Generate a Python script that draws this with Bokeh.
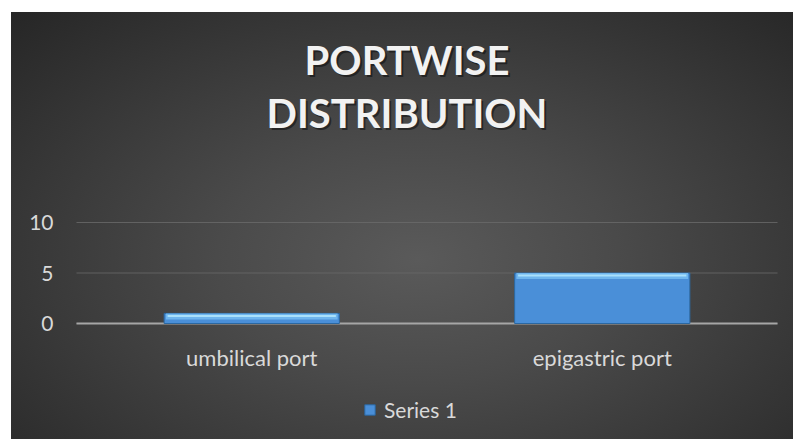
from bokeh.plotting import figure
from bokeh.models import Range1d, Legend, LegendItem
from bokeh.embed import file_html
from bokeh.resources import INLINE

# ---- data ----
categories = ["umbilical port", "epigastric port"]
series_name = "Series 1"
series_values = [1, 5]
y_ticks = [0, 5, 10]
y_tick_labels = ["0", "5", "10"]
title_lines = ["PORTWISE", "DISTRIBUTION"]

FONT = "Lato"
W, H = 782, 427            # chart canvas (pixels)
FL, FR, FT, FB = 65, 16, 210, 116   # space around the plot area
Y_MIN, Y_MAX = 0, 10
N = len(categories)

# scales: plot area spans the categories 0..N and values Y_MIN..Y_MAX
fw, fh = W - FL - FR, H - FT - FB
xu = N / fw
yu = (Y_MAX - Y_MIN) / fh
p = figure(
    width=W, height=H, output_backend="svg", toolbar_location=None,
    x_range=Range1d(-FL * xu, N + FR * xu),
    y_range=Range1d(Y_MIN - FB * yu, Y_MAX + FT * yu),
    x_axis_location=None, y_axis_location=None,
    min_border=0, title=None,
)
p.styles = {
    "margin-left": "11px", "margin-top": "12px",
    "background": "radial-gradient(ellipse at 52% 58%, #5a5a5a 0%, #4a4a4a 35%, #262626 100%)",
}
p.border_fill_alpha = 0
p.background_fill_alpha = 0
p.outline_line_color = None
p.xgrid.visible = False
p.ygrid.visible = False

xc = [i + 0.5 for i in range(N)]

# gridlines and baseline
p.segment(x0=[0] * len(y_ticks), x1=[N] * len(y_ticks), y0=y_ticks, y1=y_ticks,
          line_color="#6a6a6a", line_alpha=0.8, line_width=1)
p.segment(x0=[0], x1=[N], y0=[Y_MIN], y1=[Y_MIN], line_color="#a6a6a6", line_width=2)

# bars with bevel highlight
BAR_W = 0.5
r = p.vbar(x=xc, top=series_values, bottom=Y_MIN, width=BAR_W,
           fill_color="#4a8fd8", line_color="#2b67a0", line_width=1)
p.vbar(x=xc, top=series_values, bottom=[v - 0.6 for v in series_values], width=BAR_W - 0.01,
       fill_color="#6fb6ee", line_color=None)
p.segment(x0=[x - BAR_W / 2 + 0.01 for x in xc], x1=[x + BAR_W / 2 - 0.01 for x in xc],
          y0=[v - 0.25 for v in series_values], y1=[v - 0.25 for v in series_values],
          line_color="#a9e0fb", line_width=2)

# y tick labels
p.text(x=[0] * len(y_ticks), y=y_ticks, text=y_tick_labels, x_offset=-23,
       text_align="right", text_baseline="middle",
       text_font={"value": FONT}, text_font_size="21px", text_color="#d9d9d9")

# category labels
p.text(x=xc, y=[Y_MIN] * N, text=categories, y_offset=34,
       text_align="center", text_baseline="middle",
       text_font={"value": FONT}, text_font_size="22px", text_color="#d9d9d9")

# title (with soft shadow)
offs = [-163, -110]
for dx, dy, col, alpha in [(2, 2, "#000000", 0.45), (0, 0, "#f2f2f2", 1.0)]:
    for t, o in zip(title_lines, offs):
        p.text(x=[N / 2], y=[Y_MAX], text=[t], x_offset=-20 + dx, y_offset=o + dy,
               text_align="center", text_baseline="middle",
               text_font={"value": FONT}, text_font_style="bold",
               text_font_size="40px", text_color=col, text_alpha=alpha)

# legend
legend = Legend(items=[LegendItem(label=series_name, renderers=[r])],
                orientation="horizontal", location=(352, 17),
                background_fill_alpha=0, border_line_color=None,
                label_text_font=FONT, label_text_font_size="21px",
                label_text_color="#d9d9d9", glyph_width=13, glyph_height=13,
                label_standoff=8, margin=0, padding=2)
p.add_layout(legend)

open("out.html", "w").write(file_html(p, INLINE))
